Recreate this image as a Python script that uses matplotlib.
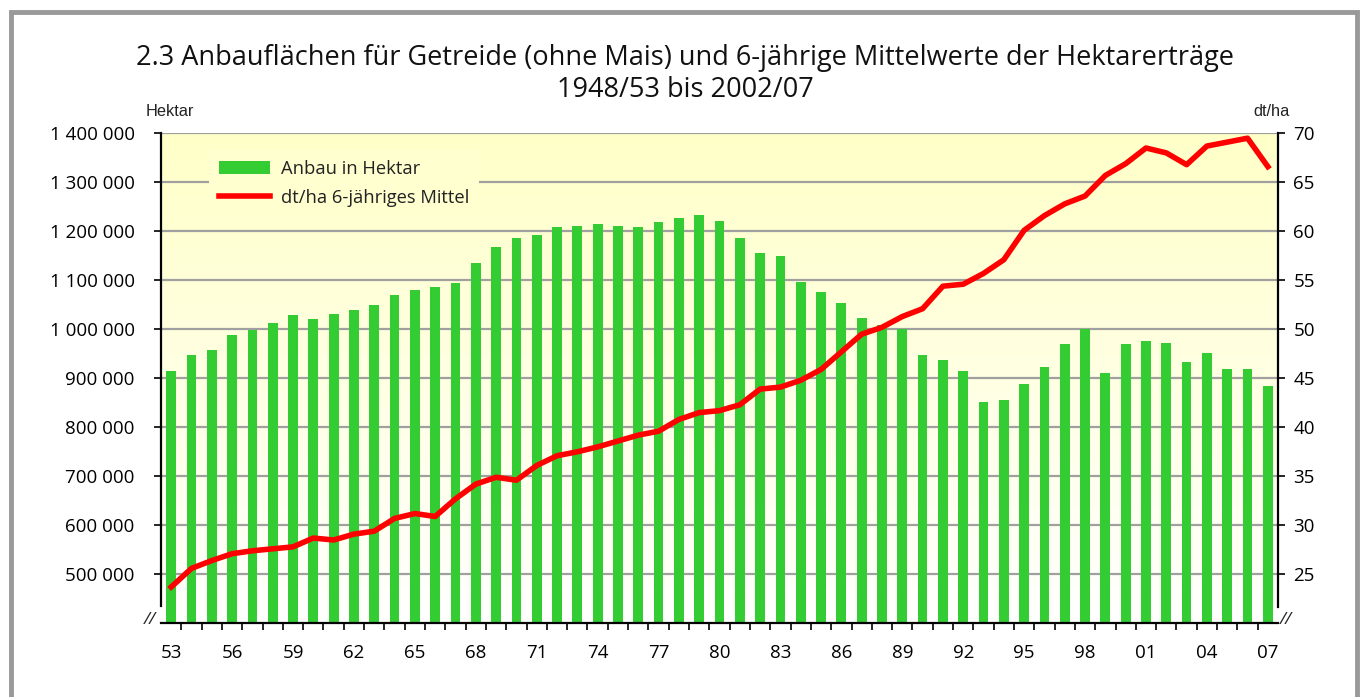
import numpy as np
import matplotlib
matplotlib.use("Agg")
import matplotlib.pyplot as plt
from matplotlib.patches import Rectangle

# Jahre 1953 bis 2007 (6-jaehrige Mittel 1948/53 bis 2002/07)
years = list(range(1953, 2008))
year_labels = [f"{y % 100:02d}" for y in years]

# Anbauflaeche Getreide ohne Mais in Hektar
area_ha = [914000, 947000, 957000, 988000, 998000, 1012000, 1029000, 1020000, 1031000, 1039000,
           1049000, 1071000, 1080000, 1086000, 1094000, 1135000, 1167000, 1186000, 1192000, 1208000,
           1210000, 1214000, 1210000, 1208000, 1218000, 1227000, 1233000, 1222000, 1186000, 1155000,
           1149000, 1097000, 1076000, 1053000, 1024000, 1008000, 1000000, 947000, 937000, 914000,
           851000, 855000, 888000, 924000, 969000, 1000000, 910000, 969000, 976000, 973000,
           933000, 951000, 918000, 918000, 884000]

# Hektarertrag dt/ha, 6-jaehriges Mittel
yield_dt = [23.7, 25.6, 26.4, 27.1, 27.4, 27.6, 27.8, 28.7, 28.5, 29.1,
            29.4, 30.7, 31.2, 30.9, 32.7, 34.2, 34.9, 34.6, 36.1, 37.1,
            37.5, 38.0, 38.6, 39.2, 39.6, 40.8, 41.5, 41.7, 42.3, 43.9,
            44.1, 44.8, 45.9, 47.7, 49.5, 50.2, 51.3, 52.1, 54.4, 54.6,
            55.7, 57.1, 60.1, 61.6, 62.8, 63.6, 65.7, 66.9, 68.5, 68.0,
            66.8, 68.7, 69.1, 69.5, 66.6]

left_ticks = list(range(500000, 1400001, 100000))
right_ticks = list(range(25, 71, 5))

font = ["Open Sans", "DejaVu Sans"]
plt.rcParams['font.family'] = font
plt.rcParams['text.color'] = '#222222'

fig = plt.figure(figsize=(13.64, 6.97), dpi=100)
W, H = 1364, 697
ax = fig.add_axes([161 / W, 1 - 623.3 / H, (1278 - 161) / W, (623.3 - 133.3) / H])

x = np.arange(len(years))
ax.set_xlim(-0.5, len(years) - 0.5)
ax.set_ylim(400000, 1400000)

# Hintergrund: gelb nach weiss
grad = np.linspace(0, 1, 256).reshape(-1, 1)
cmap = matplotlib.colors.LinearSegmentedColormap.from_list("bg", ["#FFFFFF", "#FFFFC8"])
ax.imshow(grad, extent=[-0.5, len(years) - 0.5, 400000, 1400000], origin='lower',
          aspect='auto', cmap=cmap, zorder=0)

for v in left_ticks:
    ax.axhline(v, color='#A0A0A0', lw=1.6, zorder=1)

ax.bar(x, area_ha, width=0.48, color='#33CC33', zorder=2, label='Anbau in Hektar')

ax.set_yticks(left_ticks)
ax.set_yticklabels([f"{v:,}".replace(",", " ") for v in left_ticks], fontsize=13.5)
ax.set_xticks(x[::3])
ax.set_xticklabels(year_labels[::3], fontsize=13.5)
ax.set_xticks(np.arange(0.5, len(years) - 1, 1), minor=True)
ax.tick_params(axis='x', which='major', length=0, pad=15)
ax.tick_params(axis='x', which='minor', length=5, width=1.2, direction='out')
ax.tick_params(axis='y', length=5, width=1.2, direction='out', pad=14)

for s in ['top', 'right']:
    ax.spines[s].set_visible(False)
ax.spines['left'].set_bounds(435000, 1400000)
ax.spines['left'].set_linewidth(1.6)
ax.spines['bottom'].set_linewidth(1.6)

ax2 = ax.twinx()
ax2.set_ylim(20, 70)
ax2.plot(x, yield_dt, color='#FF0000', lw=4, zorder=3, label='dt/ha 6-jähriges Mittel')
ax2.set_yticks(right_ticks)
ax2.set_yticklabels([str(v) for v in right_ticks], fontsize=13.5)
ax2.tick_params(axis='y', length=5, width=1.2, direction='out', pad=6)
for s in ['top', 'left', 'bottom']:
    ax2.spines[s].set_visible(False)
ax2.spines['right'].set_bounds(21.7, 70)
ax2.spines['right'].set_linewidth(1.6)

h1, l1 = ax.get_legend_handles_labels()
h2, l2 = ax2.get_legend_handles_labels()
leg = ax2.legend(h1 + h2, l1 + l2, loc='upper left', bbox_to_anchor=(0.035, 0.985),
                 fontsize=13.2, frameon=True, facecolor='#FFFFD0', edgecolor='none',
                 framealpha=1, fancybox=False, handlelength=2.75, handletextpad=0.6,
                 labelspacing=0.6, borderpad=0.55)
leg.get_frame().set_linewidth(0)

# Achsenbruch
fig.text(150 / W, 1 - 620 / H, "//", fontsize=12.5, ha='center', va='center', style='italic')
fig.text(1286 / W, 1 - 620 / H, "//", fontsize=12.5, ha='center', va='center', style='italic')

fig.text(170 / W, 1 - 112 / H, "Hektar", fontsize=11.8, ha='center', va='center',
         family=["Liberation Sans", "DejaVu Sans"])
fig.text(1272 / W, 1 - 112 / H, "dt/ha", fontsize=11.8, ha='center', va='center',
         family=["Liberation Sans", "DejaVu Sans"])

fig.text(685 / W, 1 - 74 / H,
         "2.3 Anbauflächen für Getreide (ohne Mais) und 6-jährige Mittelwerte der Hektarerträge\n1948/53 bis 2002/07",
         fontsize=19.5, ha='center', va='center', linespacing=1.15, color='#111111')

fig.patches.append(Rectangle((10.5 / W, -0.05), (1357 - 10.5) / W, 1.05 - 12 / H,
                             transform=fig.transFigure, fill=False,
                             edgecolor='#999999', lw=3.5))

fig.savefig("out.png", dpi=100)
